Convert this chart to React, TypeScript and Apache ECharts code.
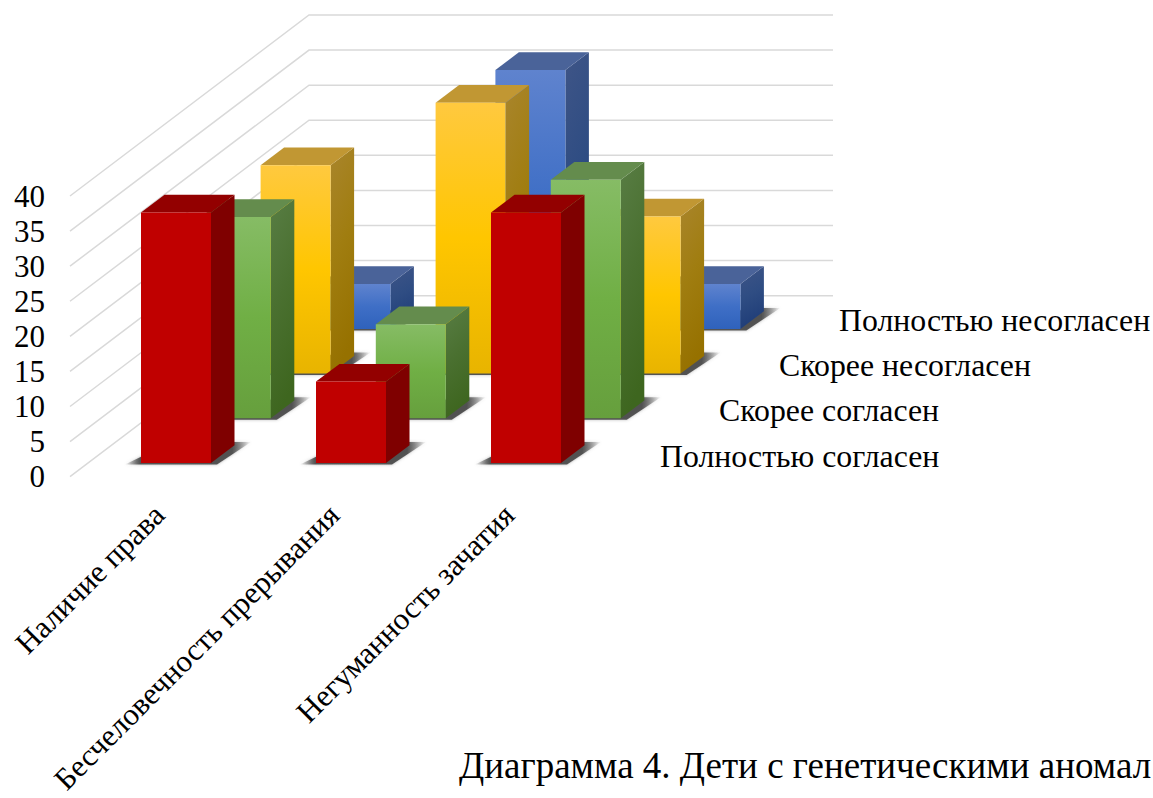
import React, { useEffect, useRef } from "react";
import * as echarts from "echarts";

const categories = ["Наличие права", "Бесчеловечность прерывания", "Негуманность зачатия"];
const rowNames = ["Полностью согласен", "Скорее согласен", "Скорее несогласен", "Полностью несогласен"];
const fullyAgree = [35.7, 11.6, 35.7];
const ratherAgree = [28.7, 13.4, 34.0];
const ratherDisagree = [29.7, 38.6, 22.4];
const fullyDisagree = [6.4, 36.9, 6.4];
const yTicks = [0, 5, 10, 15, 20, 25, 30, 35, 40];
const caption = "Диаграмма 4. Дети с генетическими аномал";

const FONT = "'Liberation Serif', 'Times New Roman', serif";
const VALUE_FONT_SIZE = 31;
const CATEGORY_FONT_SIZE = 31;
const ROW_FONT_SIZE = 31.8;
const CAPTION_FONT_SIZE = 37;

// Oblique projection of the depth axis
const ROW_DX = 59.8;
const ROW_DY = 44.7;
const FRONT_SHIFT_X = 17;
const FRONT_BASE_LIFT = 13.7;
const BAR_W = 70;
const DEPTH_DX = 23.5;
const DEPTH_DY = 17.7;

// Wall and floor geometry
const WALL_LEFT = 70;
const WALL_CORNER = 309;
const WALL_RIGHT = 833;
const WALL_RISE = 181;

const grad = (stops: [number, string][], x2 = 0, y2 = 1) => ({
  type: "linear",
  x: 0,
  y: 0,
  x2,
  y2,
  colorStops: stops.map(([offset, color]) => ({ offset, color })),
});

type Palette = { front: any; top: string; side: any };

const palettes: Palette[] = [
  { front: "#C00000", top: "#930000", side: "#7F0000" },
  {
    front: grad([[0, "#86BC65"], [0.5, "#70AF45"], [1, "#669F3D"]]),
    top: "#648C4D",
    side: grad([[0, "#587D44"], [0.5, "#4A7030"], [1, "#3E661F"]], 0.2),
  },
  {
    front: grad([[0, "#FFC93F"], [0.5, "#FFC600"], [1, "#E8B400"]]),
    top: "#C19733",
    side: grad([[0, "#A9852C"], [0.5, "#A07D10"], [1, "#967100"]], 0.2),
  },
  {
    front: grad([[0, "#5F83CE"], [0.5, "#3F6FC6"], [1, "#2F62BC"]]),
    top: "#4A6399",
    side: grad([[0, "#3F5587"], [0.5, "#2F4D83"], [1, "#1F3D78"]], 0.2),
  },
];

// Soft cast shadow: dark next to the bar, fading out at both ends
const groundFill = grad(
  [
    [0, "rgba(70,70,70,0)"],
    [0.12, "rgba(70,70,70,0.9)"],
    [0.85, "rgba(70,70,70,0.9)"],
    [1, "rgba(70,70,70,0)"],
  ],
  1,
  0,
);

function barRenderer(row: number) {
  const palette = palettes[row];
  return (_params: any, api: any) => {
    const cat = api.value(0);
    const [cx, y0] = api.coord([cat, 0]);
    const [, yTop] = api.coord([cat, api.value(1)]);
    const lift = FRONT_BASE_LIFT + row * ROW_DY;
    const left = cx + FRONT_SHIFT_X - BAR_W / 2 + row * ROW_DX;
    const right = left + BAR_W;
    const base = y0 - lift;
    const top = yTop - lift;
    const height = base - top;

    const ground = {
      type: "polygon",
      shape: {
        points: [
          [left - 16, base + 1.5],
          [left + 12, base - 12],
          [right + 20, base - 21],
          [right + 40, base - 21],
          [right + 6, base + 1.5],
        ],
      },
      style: { fill: groundFill, shadowBlur: 3, shadowColor: "rgba(90,90,90,0.5)" },
    };
    const side = {
      type: "polygon",
      shape: {
        points: [
          [right, top],
          [right + DEPTH_DX, top - DEPTH_DY],
          [right + DEPTH_DX, base - DEPTH_DY],
          [right, base],
        ],
      },
      style: { fill: palette.side },
    };
    const cap = {
      type: "polygon",
      shape: {
        points: [
          [left, top],
          [left + DEPTH_DX, top - DEPTH_DY],
          [right + DEPTH_DX, top - DEPTH_DY],
          [right, top],
        ],
      },
      style: { fill: palette.top },
    };
    const front = {
      type: "rect",
      shape: { x: left, y: top, width: BAR_W, height },
      style: { fill: palette.front },
    };
    return { type: "group", children: [ground, side, cap, front] };
  };
}

function wallRenderer(_params: any, api: any) {
  const [, y] = api.coord([0, api.value(1)]);
  return {
    type: "polyline",
    shape: {
      points: [
        [WALL_LEFT, y],
        [WALL_CORNER, y - WALL_RISE],
        [WALL_RIGHT, y - WALL_RISE],
      ],
    },
    style: { stroke: "#D9D9D9", lineWidth: 1.5, fill: "none" },
  };
}

const rowLabelPositions = [
  [660, 456],
  [719, 410],
  [779, 365],
  [839, 320],
];

export default function App() {
  const ref = useRef<HTMLDivElement>(null);

  useEffect(() => {
    if (!ref.current) return;
    const chart = echarts.init(ref.current, undefined, { renderer: "svg" });
    const rows = [fullyDisagree, ratherDisagree, ratherAgree, fullyAgree];
    const rowIndex = [3, 2, 1, 0];

    chart.setOption({
      animation: false,
      backgroundColor: "#fff",
      grid: {
        left: 71.5,
        top: 196,
        width: 525,
        height: 280.7,
        containLabel: false,
        outerBoundsMode: "none",
      },
      xAxis: {
        type: "category",
        data: categories,
        axisLine: { show: false },
        axisTick: { show: false },
        splitLine: { show: false },
        axisLabel: {
          interval: 0,
          rotate: 45,
          margin: 33,
          color: "#000",
          fontFamily: FONT,
          fontSize: CATEGORY_FONT_SIZE,
        },
      },
      yAxis: {
        type: "value",
        min: 0,
        max: 40,
        interval: 5,
        axisLine: { show: false },
        axisTick: { show: false },
        splitLine: { show: false },
        axisLabel: {
          margin: 26.5,
          color: "#000",
          fontFamily: FONT,
          fontSize: VALUE_FONT_SIZE,
        },
      },
      series: [
        {
          type: "custom",
          name: "Сетка",
          silent: true,
          renderItem: wallRenderer,
          encode: { x: 0, y: 1 },
          data: yTicks.map((v) => [0, v]),
        },
        ...rows.map((values, i) => ({
          type: "custom",
          name: rowNames[rowIndex[i]],
          renderItem: barRenderer(rowIndex[i]),
          encode: { x: 0, y: 1 },
          data: values.map((v, c) => [c, v]),
        })),
      ],
      graphic: [
        ...rowNames.map((text, i) => ({
          type: "text",
          x: rowLabelPositions[i][0],
          y: rowLabelPositions[i][1],
          style: {
            fill: "#000",
            font: `${ROW_FONT_SIZE}px ${FONT}`,
            text,
            align: "left",
            verticalAlign: "middle",
          },
        })),
        {
          type: "text",
          x: 459,
          y: 765,
          style: {
            fill: "#000",
            font: `${CAPTION_FONT_SIZE}px ${FONT}`,
            text: caption,
            align: "left",
            verticalAlign: "middle",
          },
        },
      ],
    });
    return () => chart.dispose();
  }, []);

  return (
    <div
      ref={ref}
      style={{ position: "fixed", left: 0, top: 0, width: 1153, height: 798, overflow: "hidden" }}
    />
  );
}
